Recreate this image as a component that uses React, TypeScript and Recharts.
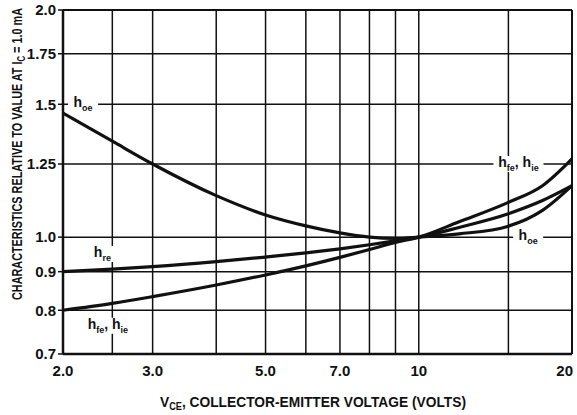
import React from "react";
import {
  CartesianGrid,
  Line,
  LineChart,
  ReferenceDot,
  ReferenceLine,
  XAxis,
  YAxis,
} from "recharts";

// V_CE values (volts) where the curves were read
const vce = [2, 2.5, 3, 4, 5, 6, 7, 8, 9, 10, 12, 15, 17.5, 20];
const hoe = [1.46, 1.34, 1.25, 1.135, 1.07, 1.035, 1.013, 1.0, 0.996, 1.0, 1.01, 1.034, 1.085, 1.17];
const hre = [0.9, 0.907, 0.914, 0.928, 0.941, 0.953, 0.965, 0.977, 0.989, 1.0, 1.03, 1.074, 1.118, 1.17];
const hfeHie = [0.8, 0.817, 0.834, 0.864, 0.891, 0.916, 0.94, 0.963, 0.984, 1.0, 1.048, 1.112, 1.17, 1.27];

const xTicks = [2, 3, 5, 7, 10, 20];
const xGrid = [2.5, 3, 4, 5, 6, 7, 8, 9, 10, 15];
const yTicks = [0.7, 0.8, 0.9, 1.0, 1.25, 1.5, 1.75, 2.0];

const data = vce.map((v, i) => ({
  vce: v,
  hoe: hoe[i],
  hre: hre[i],
  hfe: hfeHie[i],
}));

const FONT = "'Liberation Sans', Arial, sans-serif";
const INK = "#111";

type Seg = { t: string; sub?: boolean };

// curve labels: position in data units, text segments, background width
const curveLabels: { x: number; y: number; segs: Seg[]; w: number }[] = [
  { x: 2.19, y: 1.5, segs: [{ t: "h" }, { t: "oe", sub: true }], w: 30 },
  { x: 2.39, y: 0.95, segs: [{ t: "h" }, { t: "re", sub: true }], w: 26 },
  {
    x: 2.45,
    y: 0.763,
    segs: [{ t: "h" }, { t: "fe", sub: true }, { t: ", h" }, { t: "ie", sub: true }],
    w: 46,
  },
  {
    x: 15.7,
    y: 1.25,
    segs: [{ t: "h" }, { t: "fe", sub: true }, { t: ", h" }, { t: "ie", sub: true }],
    w: 50,
  },
  { x: 16.4, y: 1.0, segs: [{ t: "h" }, { t: "oe", sub: true }], w: 30 },
];

function renderSegs(segs: Seg[]) {
  let down = false;
  return segs.map((s, i) => {
    let dy = 0;
    if (s.sub && !down) {
      dy = 4;
      down = true;
    } else if (!s.sub && down) {
      dy = -4;
      down = false;
    }
    return (
      <tspan key={i} dy={dy} fontSize={s.sub ? 9 : 14}>
        {s.t}
      </tspan>
    );
  });
}

function CurveLabel(props: any) {
  const { cx, cy, segs, w } = props;
  return (
    <g>
      <rect x={cx - w / 2} y={cy - 8} width={w} height={16} fill="#fff" />
      <text
        x={cx}
        y={cy + 3}
        textAnchor="middle"
        fill={INK}
        fontFamily={FONT}
        fontWeight={700}
      >
        {renderSegs(segs)}
      </text>
    </g>
  );
}

const fmtX = (v: number) => (v < 10 ? v.toFixed(1) : String(v));
const fmtY = (v: number) => (v === 1.25 || v === 1.75 ? v.toFixed(2) : v.toFixed(1));

function XTick(props: any) {
  const { x, y, payload } = props;
  const last = payload.value === 20;
  return (
    <text
      x={last ? x + 4 : x}
      y={y + 14}
      textAnchor={last ? "end" : "middle"}
      fill={INK}
      fontFamily={FONT}
      fontWeight={700}
      fontSize={15}
    >
      {fmtX(payload.value)}
    </text>
  );
}

export default function App() {
  return (
    <div style={{ position: "absolute", left: 0, top: 0, background: "#fff" }}>
      <LineChart
        width={577}
        height={415}
        data={data}
        margin={{ top: 10, right: 5, bottom: 31, left: 0 }}
      >
        <CartesianGrid vertical={false} stroke={INK} strokeWidth={1.5} />
        {xGrid.map((g) => (
          <ReferenceLine key={g} x={g} stroke={INK} strokeWidth={1.5} />
        ))}
        <ReferenceLine y={2} stroke={INK} strokeWidth={2} />
        <ReferenceLine x={20} stroke={INK} strokeWidth={2} />
        <XAxis
          dataKey="vce"
          type="number"
          scale="log"
          domain={[2, 20]}
          ticks={xTicks}
          tickLine={false}
          axisLine={{ stroke: INK, strokeWidth: 2.5 }}
          height={30}
          tick={<XTick />}
          label={{
            content: () => (
              <text
                x={160}
                y={407}
                textLength={306}
                lengthAdjust="spacingAndGlyphs"
                fill={INK}
                fontFamily={FONT}
                fontWeight={700}
                fontSize={15}
              >
                V<tspan dy={3} fontSize={10}>CE</tspan>
                <tspan dy={-3}>, COLLECTOR-EMITTER VOLTAGE (VOLTS)</tspan>
              </text>
            ),
          }}
        />
        <YAxis
          type="number"
          scale="log"
          domain={[0.7, 2]}
          ticks={yTicks}
          tickFormatter={fmtY}
          width={63}
          tickSize={5}
          tickLine={{ stroke: INK, strokeWidth: 1.5 }}
          axisLine={{ stroke: INK, strokeWidth: 2.5 }}
          tick={{ fill: INK, fontSize: 15, fontFamily: FONT, fontWeight: 700 }}
          label={{
            content: () => (
              <text
                transform="translate(22,300) rotate(-90)"
                textLength={292}
                lengthAdjust="spacingAndGlyphs"
                fill={INK}
                fontFamily={FONT}
                fontWeight={700}
                fontSize={14}
              >
                CHARACTERISTICS RELATIVE TO VALUE AT I
                <tspan dy={3} fontSize={10}>C</tspan>
                <tspan dy={-3}> = 1.0 mA</tspan>
              </text>
            ),
          }}
        />
        <Line
          dataKey="hoe"
          type="monotone"
          stroke={INK}
          strokeWidth={3.2}
          dot={false}
          isAnimationActive={false}
        />
        <Line
          dataKey="hre"
          type="monotone"
          stroke={INK}
          strokeWidth={3.2}
          dot={false}
          isAnimationActive={false}
        />
        <Line
          dataKey="hfe"
          type="monotone"
          stroke={INK}
          strokeWidth={3.2}
          dot={false}
          isAnimationActive={false}
        />
        {curveLabels.map((l, i) => (
          <ReferenceDot
            key={i}
            x={l.x}
            y={l.y}
            r={0}
            shape={(p: any) => <CurveLabel {...p} segs={l.segs} w={l.w} />}
          />
        ))}
      </LineChart>
    </div>
  );
}
